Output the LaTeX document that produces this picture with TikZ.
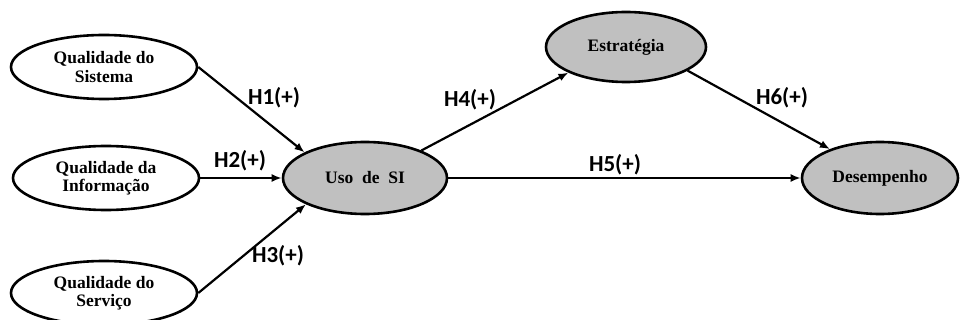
\documentclass[tikz,border=0pt]{standalone}
\usepackage{fontspec}
\setmainfont{Liberation Serif}
\newfontfamily\hfont{Carlito}
\usetikzlibrary{arrows.meta,shapes.geometric}
\definecolor{nodegray}{RGB}{192,192,192}
\begin{document}
\begin{tikzpicture}[x=1pt,y=-1pt,
  construct/.style={ellipse,draw=black,line width=2.6pt,inner sep=0pt,
    font=\fontsize{17.5}{18.5}\selectfont\bfseries,align=center},
  whitebox/.style={construct,fill=white,minimum width=186pt,minimum height=64pt},
  graybox/.style={construct,fill=nodegray},
  link/.style={line width=2.2pt,-{Latex[length=10pt,width=8pt]}},
  hyp/.style={font=\hfont\fontsize{23}{25}\selectfont\bfseries,inner sep=0pt}]
\useasboundingbox (0,0) rectangle (960,320);
\node[whitebox] (q1) at (104,67) {Qualidade do\\Sistema};
\node[whitebox] (q2) at (106,178) {Qualidade da\\Informação};
\node[whitebox] (q3) at (104,293) {Qualidade do\\Serviço};
\node[graybox,minimum width=164pt,minimum height=72pt] (uso) at (365,178) {Uso\ \ de\ \ SI};
\node[graybox,minimum width=160pt,minimum height=70pt] (est) at (626,47) {Estratégia};
\node[graybox,minimum width=156pt,minimum height=72pt] (des) at (880,178) {Desempenho};
\draw[link] (q1.east) -- (uso.157);
\draw[link] (q2.east) -- (uso.west);
\draw[link] (q3.east) -- (uso.204);
\draw[link] (uso.26) -- (est.204);
\draw[link] (uso.east) -- (des.west);
\draw[link] (est.339) -- (des.150);
\node[hyp] (h1) at (274,98) {H1(+)};
\node[hyp] (h2) at (240,161) {H2(+)};
\node[hyp] (h3) at (278,256) {H3(+)};
\node[hyp] (h4) at (470,100) {H4(+)};
\node[hyp] (h5) at (615,165) {H5(+)};
\node[hyp] (h6) at (782,98) {H6(+)};
\end{tikzpicture}
\end{document}
